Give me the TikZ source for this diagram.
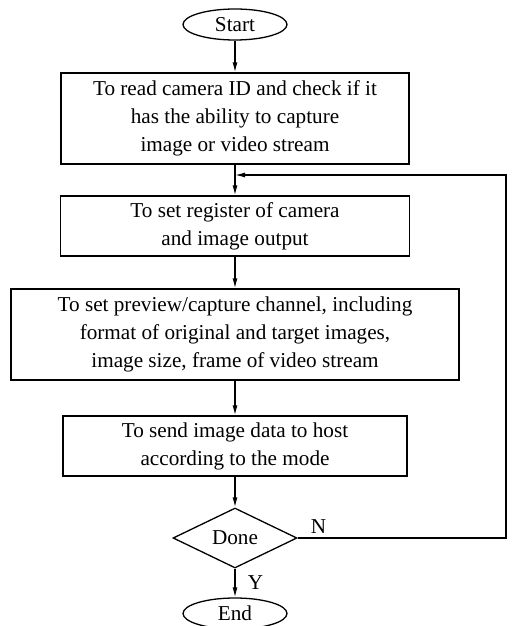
\documentclass[tikz,border=0pt]{standalone}
\usepackage{fontspec}
\setmainfont{Liberation Serif}
\usetikzlibrary{shapes.geometric}
\usetikzlibrary{arrows.meta}
\tikzset{
  every node/.style={
    align=center,
    font=\fontsize{21.2}{28}\selectfont,
  },
  process/.style={draw, rectangle, line width=1.3pt},
  terminal/.style={draw, ellipse, line width=1.3pt, minimum width=104, minimum height=31, inner sep=0pt},
  decision/.style={draw, diamond, aspect=2, line width=1.3pt, minimum width=124, minimum height=60, inner sep=0pt},
  flow/.style={-{Latex[length=10pt,width=5pt]}, line width=1.3pt},
}

\begin{document}
\begin{tikzpicture}[x=1pt,y=-1pt]
    \useasboundingbox (0,0) rectangle (512,626);
    \node[terminal] (start) at (235,24.5) {Start};
    \node[process, minimum width=348, minimum height=91] (camid) at (235,118.5)
      {To read camera ID and check if it\\has the ability to capture\\image or video stream};
    \node[process, minimum width=349, minimum height=60] (register) at (235,226)
      {To set register of camera\\and image output};
    \node[process, minimum width=448, minimum height=91] (channel) at (235,334.5)
      {To set preview/capture channel, including\\format of original and target images,\\image size, frame of video stream};
    \node[process, minimum width=344, minimum height=60] (send) at (235,446)
      {To send image data to host\\according to the mode};
    \node[decision] (done) at (235,538) {Done};
    \node[terminal] (end) at (235,613.5) {End};
    \coordinate (loop) at (235,175);
    \coordinate (back) at (506,175);
    % main flow
    \draw[flow] (start) -- (camid);
    \draw[flow] (camid) -- (register);
    \draw[flow] (register) -- (channel);
    \draw[flow] (channel) -- (send);
    \draw[flow] (send) -- (done);
    \draw[flow] (done) -- node[right=9pt] {Y} (end);
    % return to register
    \draw[flow] (done.east) -- node[pos=0.1, above=1pt] {N} (done.east -| back) -- (back) -- (loop);
\end{tikzpicture}
\end{document}
